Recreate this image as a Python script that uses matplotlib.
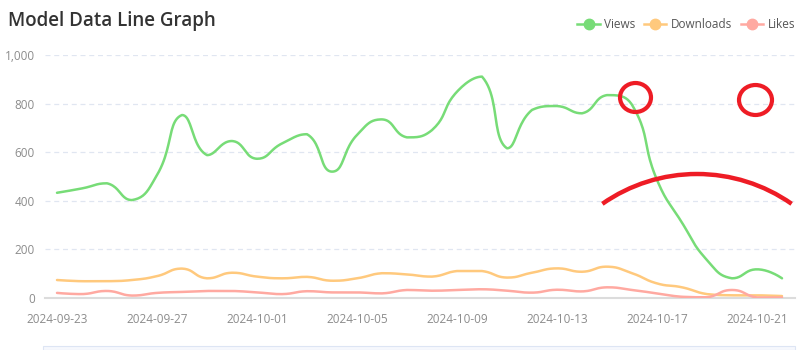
import numpy as np
import pandas as pd
import matplotlib.pyplot as plt
from matplotlib.lines import Line2D
from matplotlib.patches import Arc, Ellipse, Rectangle

plt.rcParams['font.family'] = ['Open Sans', 'DejaVu Sans']

dates = pd.date_range('2024-09-23', '2024-10-22', freq='D')
views = [433, 451, 472, 403, 506, 753, 588, 646, 573, 636,
         674, 520, 671, 735, 661, 691, 849, 911, 616, 774,
         790, 760, 835, 795, 486, 310, 156, 81, 118, 81]
downloads = [74, 69, 69, 74, 90, 121, 81, 104, 88, 81,
             87, 71, 81, 102, 97, 88, 111, 111, 84, 104,
             122, 108, 129, 102, 60, 44, 16, 11, 11, 8]
likes = [21, 16, 29, 10, 21, 25, 29, 29, 23, 16,
         28, 23, 23, 19, 33, 30, 33, 36, 30, 22,
         34, 27, 44, 33, 19, 5, 3, 33, 2, 2]

series = [('Views', views, '#77dc77'),
          ('Downloads', downloads, '#ffc97d'),
          ('Likes', likes, '#ffa9a1')]


def smooth_line(xs, ys, smooth=0.5, sx=25.0, sy=0.243, n=24):
    # bezier smoothing, control points scaled by neighbouring segment lengths
    xs = np.asarray(xs, float)
    ys = np.asarray(ys, float)
    m = len(xs)
    cp_in = np.zeros((m, 2))
    cp_out = np.zeros((m, 2))
    for i in range(m):
        p = np.array([xs[i], ys[i]])
        if i == 0 or i == m - 1:
            cp_in[i] = p
            cp_out[i] = p
            continue
        prev = np.array([xs[i - 1], ys[i - 1]])
        nxt = np.array([xs[i + 1], ys[i + 1]])
        v = nxt - prev
        d0 = np.hypot((p[0] - prev[0]) * sx, (p[1] - prev[1]) * sy)
        d1 = np.hypot((nxt[0] - p[0]) * sx, (nxt[1] - p[1]) * sy)
        r = d1 / (d0 + d1) if d0 + d1 > 0 else 0.5
        cp_out[i] = p + v * smooth * r
        cp_in[i] = p - v * smooth * (1 - r)
        # keep control points inside the neighbouring range
        lo0, hi0 = sorted([prev[1], p[1]])
        lo1, hi1 = sorted([p[1], nxt[1]])
        cp_in[i, 1] = np.clip(cp_in[i, 1], lo0, hi0)
        cp_out[i, 1] = np.clip(cp_out[i, 1], lo1, hi1)
    t = np.linspace(0, 1, n)[:, None]
    out = []
    for i in range(m - 1):
        p0 = np.array([xs[i], ys[i]])
        p3 = np.array([xs[i + 1], ys[i + 1]])
        c1, c2 = cp_out[i], cp_in[i + 1]
        seg = ((1 - t) ** 3) * p0 + 3 * ((1 - t) ** 2) * t * c1 + 3 * (1 - t) * t ** 2 * c2 + t ** 3 * p3
        out.append(seg if i == 0 else seg[1:])
    pts = np.vstack(out)
    return pts[:, 0], pts[:, 1]


fig = plt.figure(figsize=(8, 3.5), dpi=100)
ax = fig.add_axes([44.5 / 800, 52 / 350, 750 / 800, 243 / 350])

x = np.arange(len(dates))
for name, vals, color in series:
    sx_, sy_ = smooth_line(x, vals)
    ax.plot(sx_, sy_, color=color, lw=1.8, solid_capstyle='round', zorder=3)

ax.set_xlim(-0.5, len(dates) - 0.5)
ax.set_ylim(0, 1000)
ax.set_yticks(np.arange(0, 1001, 200))
ax.set_yticklabels(['{:,}'.format(v) for v in range(0, 1001, 200)])
ax.set_xticks(x[::4])
ax.set_xticklabels([d.strftime('%Y-%m-%d') for d in dates[::4]])
ax.tick_params(axis='both', length=0, labelsize=8.5, colors='#8c8c8c')
ax.tick_params(axis='x', pad=11)
ax.tick_params(axis='y', pad=7)
for s in ['top', 'right', 'left']:
    ax.spines[s].set_visible(False)
ax.spines['bottom'].set_color('#dcdcdc')
ax.spines['bottom'].set_linewidth(1.5)
ax.grid(axis='y', color='#e0e6f1', linestyle=(0, (4, 3)), lw=0.9)
ax.set_axisbelow(True)

fig.text(8 / 800, 1 - 21 / 350, 'Model Data Line Graph', fontsize=13.5, fontweight='semibold',
         color='#333333', va='center', ha='left')

handles = [Line2D([], [], color=c, lw=1.8, marker='o', markersize=7.5, label=n)
           for n, _, c in series]
leg = fig.legend(handles=handles, loc='center right', bbox_to_anchor=(1.0, 1 - 25 / 350),
                 ncol=3, frameon=False, fontsize=8.5, handlelength=1.9, handletextpad=0.4,
                 columnspacing=0.7, borderaxespad=0)
for t in leg.get_texts():
    t.set_color('#555555')

# zoom slider strip along the bottom edge
fig.patches.append(Rectangle((43 / 800, 0), 752 / 800, 4 / 350, transform=fig.transFigure,
                             facecolor='#f6f8fd', edgecolor='#dde5f4', lw=0.8))

# red marker-pen face over the chart
red = '#ee1c25'
tr = fig.dpi_scale_trans
fig.patches.append(Ellipse((6.355, 2.525), 0.31, 0.29, transform=tr, fill=False,
                           edgecolor=red, lw=3))
fig.patches.append(Ellipse((7.555, 2.50), 0.33, 0.30, transform=tr, fill=False,
                           edgecolor=red, lw=3))
fig.patches.append(Arc((6.97, 0.11), 3.30, 3.30, theta1=55, theta2=125, transform=tr,
                       edgecolor=red, lw=3.2))

fig.savefig('out.png', dpi=100)
